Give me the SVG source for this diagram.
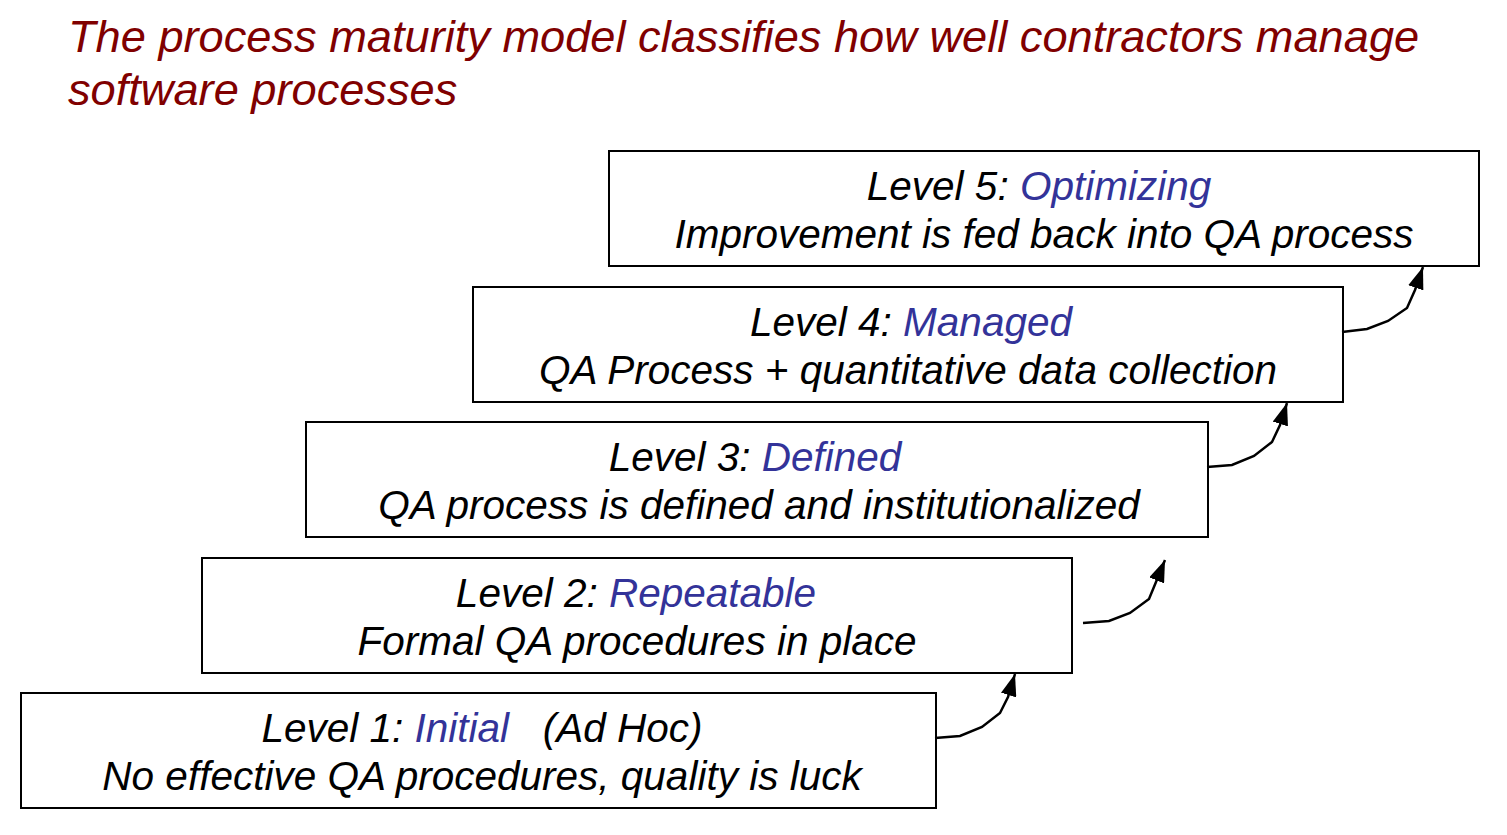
<svg xmlns="http://www.w3.org/2000/svg" width="1507" height="835" viewBox="0 0 1507 835">
<style>
.box{fill:#fff;stroke:#000;stroke-width:2}
.t{font-family:"Liberation Sans",Arial,sans-serif;font-style:italic;font-size:40.5px;fill:#000;text-anchor:middle}
.b{fill:#333399}
.title{font-family:"Liberation Sans",Arial,sans-serif;font-style:italic;font-size:45.2px;fill:#800000}
.c{fill:none;stroke:#000;stroke-width:2.5}
</style>
<defs>
<marker id="ah" markerWidth="24" markerHeight="16" refX="22" refY="8" orient="auto" markerUnits="userSpaceOnUse">
<path d="M0,0 L22,8 L0,16 Z" fill="#000"/>
</marker>
</defs>
<text class="title" x="68" y="52">The process maturity model classifies how well contractors manage</text>
<text class="title" x="68" y="105">software processes</text>
<g id="level5">
<rect class="box" x="609" y="151" width="870" height="115"/>
<text class="t" x="1039" y="200">Level 5: <tspan class="b">Optimizing</tspan></text>
<text class="t" x="1044" y="248">Improvement is fed back into QA process</text>
</g>
<g id="level4">
<rect class="box" x="473" y="287" width="870" height="115"/>
<text class="t" x="911" y="336">Level 4: <tspan class="b">Managed</tspan></text>
<text class="t" x="908" y="384">QA Process + quantitative data collection</text>
</g>
<g id="level3">
<rect class="box" x="306" y="422" width="902" height="115"/>
<text class="t" x="755" y="471">Level 3: <tspan class="b">Defined</tspan></text>
<text class="t" x="759" y="519">QA process is defined and institutionalized</text>
</g>
<g id="level2">
<rect class="box" x="202" y="558" width="870" height="115"/>
<text class="t" x="636" y="607">Level 2: <tspan class="b">Repeatable</tspan></text>
<text class="t" x="637" y="655">Formal QA procedures in place</text>
</g>
<g id="level1">
<rect class="box" x="21" y="693" width="915" height="115"/>
<text class="t" x="482" y="742" xml:space="preserve">Level 1: <tspan class="b">Initial</tspan>   (Ad Hoc)</text>
<text class="t" x="482" y="790">No effective QA procedures, quality is luck</text>
</g>
<g id="connectors">
<path class="c" marker-end="url(#ah)" d="M935,738 L960,736 L982,727 L1000,713 L1008,697 L1015,674"/>
<path class="c" marker-end="url(#ah)" d="M1083,623 L1109,621 L1130,613 L1149,599 L1156,582 L1165,560"/>
<path class="c" marker-end="url(#ah)" d="M1207,467 L1232,465 L1254,456 L1272,442 L1280,425 L1287,403"/>
<path class="c" marker-end="url(#ah)" d="M1342,332 L1367,329 L1388,321 L1407,308 L1415,290 L1423,267"/>
</g>
</svg>
